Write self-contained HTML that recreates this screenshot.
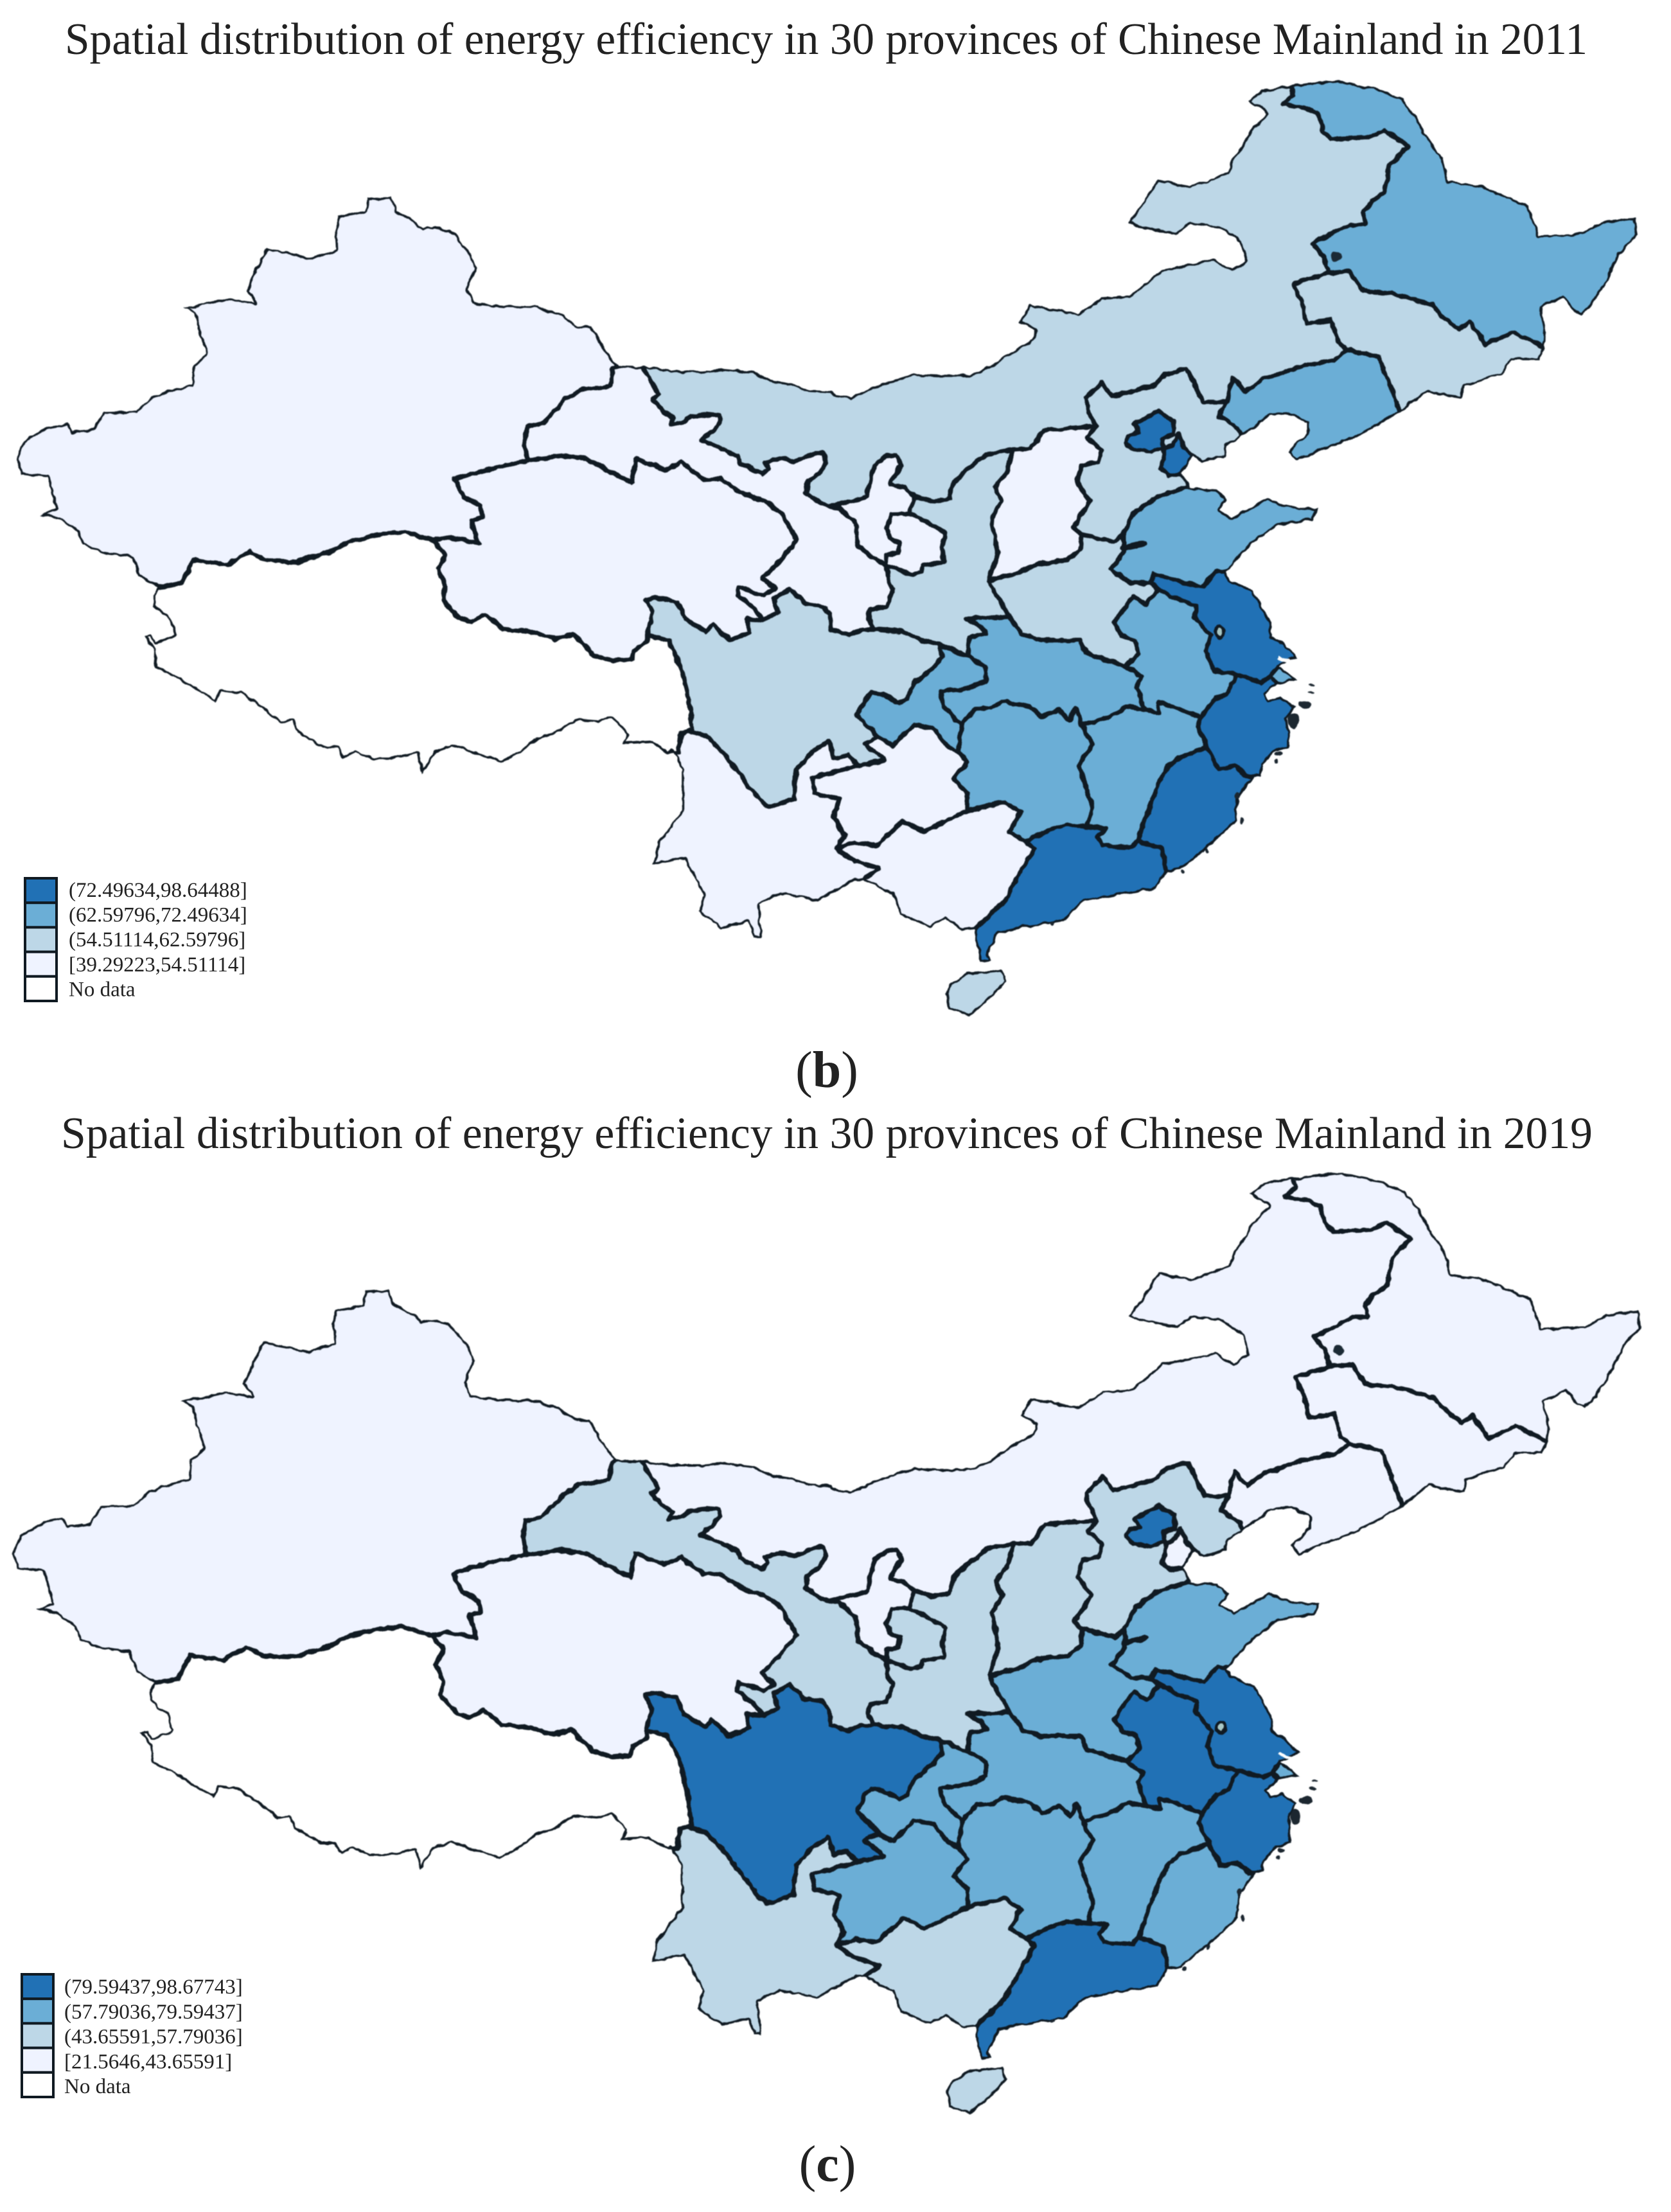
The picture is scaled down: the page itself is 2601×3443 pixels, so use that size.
<!DOCTYPE html>
<html lang="en">
<head>
<meta charset="utf-8">
<title>Spatial distribution of energy efficiency</title>
<style>
html,body{margin:0;padding:0;background:#fff;}
svg{display:block;}
text{font-family:"Liberation Serif","Times New Roman",serif;fill:#222;}
</style>
</head>
<body>
<svg id="figure" xmlns="http://www.w3.org/2000/svg" width="2601" height="3443" viewBox="0 0 2601 3443">
<defs>
<filter id="rough" filterUnits="userSpaceOnUse" x="0" y="0" width="2601" height="3443" color-interpolation-filters="sRGB">
<feTurbulence type="fractalNoise" baseFrequency="0.07" numOctaves="2" seed="4" result="n"/>
<feDisplacementMap in="SourceGraphic" in2="n" scale="7" xChannelSelector="R" yChannelSelector="G" result="d"/>
<feGaussianBlur in="d" stdDeviation="0.7"/>
</filter>
</defs>
<rect width="2601" height="3443" fill="#fff"/>
<text x="101" y="84" font-size="70" textLength="2370" lengthAdjust="spacingAndGlyphs">Spatial distribution of energy efficiency in 30 provinces of Chinese Mainland in 2011</text>
<text x="1287" y="1692" font-size="80" text-anchor="middle">(<tspan font-weight="bold">b</tspan>)</text>
<text x="95" y="1787" font-size="70" textLength="2384" lengthAdjust="spacingAndGlyphs">Spatial distribution of energy efficiency in 30 provinces of Chinese Mainland in 2019</text>
<text x="1288" y="3395" font-size="80" text-anchor="middle">(<tspan font-weight="bold">c</tspan>)</text>
<g id="maps"></g>
<g id="legends"></g>
</svg>
<script>
/* ---------- data ---------- */
const provinceNames = ["Xinjiang","Tibet","Qinghai","Gansu","Ningxia","Inner Mongolia","Heilongjiang","Jilin","Liaoning","Hebei","Beijing","Tianjin","Shanxi","Shaanxi","Shandong","Henan","Jiangsu","Anhui","Shanghai","Zhejiang","Hubei","Hunan","Jiangxi","Fujian","Guangdong","Guangxi","Chongqing","Sichuan","Guizhou","Yunnan","Hainan"];
const values2011 = [45,null,41,50,40,58,66,60,65,56,98,85,47,59,70,61,80,64,71,78,65,66,68,75,88,52,63,60,44,53,58];
const values2019 = [25,null,30,48,28,38,35,33,40,50,98,41,47,52,70,65,88,85,75,90,68,62,64,72,92,46,60,81,59,50,55];
const binEdges2011 = [39.29223,54.51114,62.59796,72.49634,98.64488];
const binEdges2019 = [21.5646,43.65591,57.79036,79.59437,98.67743];
const binColors = ["#eff3ff","#bdd7e7","#6baed6","#2171b5"];
const noDataColor = "#ffffff";

/* ---------- boundary geometry (traced outlines, local frames) ---------- */
const frames = {A:[0,0,1.206,1.845],B:[1300,100,1.205,1.845],C:[900,850,1.206,1.845],D:[0,600,1.3635,2.24],E:[1000,550,1.96,3],F:[1300,800,1.96,3],G:[1680,610,3,3],H:[1850,950,3,3]};
const arcs = {
xjOut:"A:1160,1050 1135,1000 1110,937 1085,935 1050,900 1010,880 950,878 890,868 878,830 895,770 885,730 860,680 845,660 815,650 795,655 770,625 745,605 735,565 690,570 685,605 635,620 628,660 630,715 585,740 550,728 500,712 480,770 462,835 478,868 430,855 345,883 365,900 372,950 388,1015 362,1050 360,1105 320,1120 285,1140 255,1180 195,1182 175,1230 135,1238 125,1215 90,1225 45,1265 30,1320 40,1365|D:45,310 100,320 118,430 85,450 130,470 165,510 175,555 215,585 280,600 295,665 335,705",
xjTb:"D:335,705 385,690 410,610 480,625 530,580 565,610 630,615 700,580 740,545 800,520 860,510 920,540",
xjQh:"D:920,540 955,530 1015,550 1010,520 1000,470 1025,460 1020,420 985,390 965,325 1040,290 1120,262",
xjGs:"A:990,1320 985,1270 990,1225 1020,1215 1060,1150 1090,1120 1145,1110 1150,1060 1160,1050",
gsOut:"A:1160,1050 1205,1052",
gsIm:"E:0,60 25,130 50,190 30,215 60,265 95,300 85,335 120,325 150,295 200,285 235,290 240,320 215,365 180,405 235,440 290,480 300,515 335,540 365,565 385,540 375,510 420,490 465,505 525,465 555,465 560,510 540,560 505,595 498,650 540,695 570,715",
gsNx:"E:570,715 600,720 650,790 660,900 700,950 745,990",
nxIm:"E:570,715 620,695 685,670 695,590 710,520 745,480 775,475 790,520 770,570 755,610 800,630 830,665",
nxSx:"E:830,665 815,748",
nxGs2:"E:815,748 760,750 745,820 755,860 785,885 780,930 745,940 745,990",
gsSxA:"E:815,748 870,790 925,840 915,905 920,975 855,990 850,1020 820,1030 745,990",
gsSxB:"E:745,990 750,1070 765,1100 745,1180 695,1195 690,1240 705,1290",
gsSc:"E:705,1290 670,1290 630,1315 575,1290 570,1220 550,1180 500,1170 470,1130 450,1100 400,1145 415,1210 370,1245",
qhGs:"D:1120,262 1190,245 1245,255 1340,340 1350,255|E:70,545 120,510 190,590 235,585 300,650 375,690 425,745 470,870 420,970 365,1050 405,1100 370,1130 295,1090 290,1130 340,1190 370,1245",
qhSc:"E:370,1245 320,1240 325,1305 265,1340 215,1265 195,1300 130,1240 105,1160 40,1140 10,1150 30,1210|D:1375,870",
qhTb:"D:920,540 945,590 930,640 945,700 940,750 975,810 1000,825 1030,800 1070,850 1130,860 1180,885 1215,865 1260,940 1300,960 1340,955 1345,925 1375,895 1375,870",
scTb:"D:1375,870 1420,890 1445,980 1460,1080 1470,1200",
ynTb:"D:1470,1200 1445,1210 1440,1280 1420,1285",
tbOut:"D:1420,1285 1380,1245 1320,1250 1330,1215 1300,1160 1270,1175 1220,1170 1180,1215 1140,1235 1105,1280 1065,1315 1020,1290 960,1260 925,1280 895,1355 885,1285 830,1305 790,1305 755,1280 730,1300 715,1265 685,1265 630,1210 620,1170 595,1180 560,1130 510,1075 470,1068 458,1105 405,1050 370,1015 330,985 325,925 305,875 320,870 330,895 370,870 360,815 325,770 325,730 335,705",
scYn:"C:525,630 505,600 480,610 470,560 440,590 410,640 405,725 355,750 335,720 270,590 240,545 205,530",
scGz:"F:130,1040 90,1075 120,1110 150,1150|C:525,630",
scCq:"F:320,610 325,670 290,730 240,790 220,860 195,885 150,845 110,835 90,870 65,940 100,990 130,1040",
scSx:"E:705,1290|F:205,550 265,590 320,610",
imOut:"E:0,60 100,80 180,80 250,70 340,85 390,125 450,140 510,170 580,175 590,195 635,205 700,160 780,115 830,95 900,100 1000,100 1060,60 1115,0|B:370,790 375,765 345,740 365,690 420,705 455,715 500,670 550,665 590,620 610,590 710,560 745,590 770,565 760,510 720,470 665,460 640,490 570,470 550,455 570,410 605,330 665,350 735,310 745,270 780,190 810,140 775,105 800,75 855,60",
imHl:"B:855,60 860,90 840,115 880,125 905,140 915,190 930,215 1000,210 1030,190 1075,235 1040,290 1030,370 1005,395 990,425 995,460 965,460 895,515 915,550 925,600",
imJl:"B:925,600 860,630 875,680 885,745 930,735 945,800 960,820",
imLn:"B:960,820 935,850 880,865 800,905 770,940 745,900 735,970",
imHb:"B:735,970 690,970 660,875 620,890 600,920 520,955 500,915 470,960 475,1000 490,1040",
imSh:"B:490,1040|E:1290,350 1225,360 1185,445 1130,450",
imSx:"E:1130,450 1050,470 990,545 950,600 935,680 880,690 830,665",
hlOut:"B:855,60 940,45 1020,70 1065,100 1090,150 1115,220 1140,270 1150,335 1215,350 1260,380 1300,405 1320,490 1400,485 1440,450 1500,440 1505,490 1470,550 1450,620 1420,690 1400,720 1385,710 1365,670 1325,700 1335,780 1330,815",
hlJl:"B:925,600 965,595 990,650 1050,660 1120,690 1135,720 1170,760 1190,740 1220,805 1270,770 1300,790 1330,815",
jlOut:"B:1330,815 1320,850 1270,850 1250,890 1180,925 1175,960 1130,950 1110,940 1060,1000",
jlLn:"B:960,820 1020,840 1035,900 1060,1000",
hbLn:"B:735,970 720,1010 755,1045 762,1070",
lnOut:"B:1060,1000 980,1070 910,1110 865,1140 850,1110 885,1060 885,1030 850,1005 815,1010 762,1070",
hbOut:"B:762,1070|G:690,250 680,300 575,330 530,300 480,380 515,445|B:660,1215",
hbSd:"B:660,1215 600,1245 560,1290 540,1350",
hbHn:"F:750,95 850,130 880,95",
hbSh:"B:490,1040|E:1355,390 1400,450 1390,505 1340,525 1325,600 1365,690 1315,810 1340,850",
shSx:"E:1130,450 1110,560 1075,625 1095,690 1065,770 1085,930 1055,1060",
shHn:"E:1340,850 1335,920 1295,965 1200,985 1140,1030 1055,1060",
sxCq:"F:405,665 320,610",
sxHb:"F:530,480 400,490 440,520 460,560 410,575 405,665",
sxHn:"E:1055,1060|F:500,400 530,480",
cqGz:"F:130,1040 175,1080 240,985 300,1000 340,1080 375,1110",
cqHn:"F:385,985 375,1110",
cqHb:"F:405,665 460,710 460,780 405,815 320,830 330,900 385,985",
gzYn:"C:525,630 440,665 445,710 490,725 480,780 500,830 485,870",
gzGx:"C:485,870 520,850 560,860 610,790 650,820 730,760",
hnGz:"F:375,1110|C:730,620 705,670 730,710 730,760",
ynOut:"C:175,590 195,640 195,760 150,850 140,915 200,900 235,1000 225,1050 270,1100 320,1080 330,1125 345,1125 340,1030 380,1000 450,1020 520,960 535,960",
gxYn:"C:485,870 520,905 565,925 535,960",
hnGx:"C:730,760 800,735 830,765 810,820 840,850",
gxGd:"C:840,850 855,870 825,950 800,1020 745,1100",
gxOut:"C:535,960 590,1000 605,1060 660,1095 690,1070 720,1105 745,1100",
gdHn:"C:955,805 915,800 870,825 840,850",
gdJx:"C:1050,845 1040,865 985,860 975,835 990,810 955,805",
gdFj:"C:1050,845 1095,870 1105,935",
gdOut:"C:1105,935 1085,985 950,1020 910,1080 840,1095 790,1110 770,1170 775,1190 755,1195 745,1130 745,1100",
jxHn:"C:945,515 965,570 940,630 955,700 965,750 955,805",
hbHnn:"F:385,985 430,910 480,905 510,875 595,900 630,950 680,915 715,960 735,905|C:945,515",
fjJx:"F:1135,1090 1050,1140 1015,1180|C:1090,680 1060,800 1050,845",
zjJx:"F:1115,950 1105,990 1135,1090",
ahJx:"F:945,915 990,930 985,880 1030,900 1115,950",
hbJx:"C:945,515|F:840,945 890,900 945,915",
hbAh:"F:885,710 935,760 920,810 945,915",
hnHb:"F:530,480 570,560 630,590 745,590 765,650 885,710",
hnAh:"F:885,710 925,650 915,590 875,570 850,510 880,440 910,385 950,425 985,350",
hnJs:"F:985,350 960,325",
hnSd:"F:960,325 900,320 840,260 880,180 880,95",
sdOut:"B:660,1215 715,1220 735,1250 720,1280 745,1300 770,1280 810,1245 850,1270 905,1275 895,1310 830,1325 780,1380 740,1450 730,1465",
sdJs:"F:960,325 975,280 1020,300 1060,320 1120,340 1160,270 1190,270",
ahJs:"F:985,350 1040,395 1100,430 1095,480 1145,565 1130,640 1155,730 1225,750",
jsZj:"F:1225,750 1300,785|H:385,310",
jsSh:"H:385,310 420,260",
jsOut:"F:1190,270 1205,310 1275,355 1330,510|H:385,120 445,150 510,220 420,260",
ahZj:"F:1225,750 1195,840 1160,860 1115,950",
zjSh:"H:385,310 410,345",
zjOut:"H:410,345 355,395 375,420 430,405 500,450 460,510 470,570 470,640 400,660 350,720 340,775",
zjFj:"F:1135,1090 1170,1190 1220,1180 1260,1225|H:340,775",
shOut:"H:420,260 510,325 410,345",
fjOut:"H:340,775|C:1270,660 1240,720 1235,790 1180,870 1130,930 1105,935",
hainan:"C:730,1225 795,1215 805,1250 760,1320 735,1350 695,1330 690,1285 700,1255",
beijing:"G:365,90 440,135 440,200 385,215 395,260 330,280 250,270 215,235 225,205 275,190 255,150 320,115",
tianjin:"G:395,265 440,245 465,195 490,260 530,300 480,380 420,390 380,355 395,315"
};
const provinceArcs = {
"Xinjiang":["xjOut","xjTb","xjQh","xjGs"],
"Tibet":["xjTb","qhTb","scTb","ynTb","tbOut"],
"Qinghai":["-xjQh","qhTb","-qhSc","-qhGs"],
"Gansu":["gsOut","gsIm","gsNx","-nxGs2","gsSxA","gsSxB","gsSc","-qhGs","xjGs"],
"Ningxia":["nxIm","nxSx","nxGs2","-gsNx"],
"Inner Mongolia":["imOut","imHl","imJl","imLn","imHb","imSh","imSx","-nxIm","-gsIm"],
"Heilongjiang":["hlOut","-hlJl","-imHl"],
"Jilin":["hlJl","jlOut","-jlLn","-imJl"],
"Liaoning":["jlLn","lnOut","-hbLn","-imLn"],
"Hebei":["hbLn","hbOut","hbSd","-hbHn","-hbSh","-imHb"],
"Beijing":["beijing"],
"Tianjin":["tianjin"],
"Shanxi":["imSh","shSx","-shHn","-hbSh"],
"Shaanxi":["imSx","nxSx","gsSxA","gsSxB","scSx","-sxCq","-sxHb","-sxHn","-shSx"],
"Shandong":["-hbSd","sdOut","-sdJs","hnSd"],
"Henan":["sxHn","hnHb","hnAh","hnJs","hnSd","-hbHn","shHn"],
"Jiangsu":["-hnJs","ahJs","jsZj","jsSh","-jsOut","-sdJs"],
"Anhui":["hnAh","ahJs","ahZj","-ahJx","-hbAh"],
"Shanghai":["jsSh","shOut","-zjSh"],
"Zhejiang":["jsZj","zjSh","zjOut","-zjFj","-zjJx","-ahZj"],
"Hubei":["cqHb","hbHnn","hbJx","-hbAh","-hnHb","sxHb"],
"Hunan":["cqHn","hnGz","hnGx","-gdHn","-jxHn","-hbHnn"],
"Jiangxi":["jxHn","-gdJx","-fjJx","-zjJx","-ahJx","-hbJx"],
"Fujian":["zjFj","fjOut","-gdFj","-fjJx"],
"Guangdong":["-gxGd","-gdHn","-gdJx","gdFj","gdOut"],
"Guangxi":["gzGx","hnGx","gxGd","-gxOut","-gxYn"],
"Chongqing":["sxCq","scCq","cqGz","-cqHn","-cqHb"],
"Sichuan":["gsSc","qhSc","scTb","-scYn","-scGz","-scCq","-scSx"],
"Guizhou":["scGz","gzYn","gzGx","-hnGz","-cqGz"],
"Yunnan":["ynOut","-gxYn","-gzYn","scYn","ynTb"],
"Hainan":["hainan"]
};
/* small coastal islands: frame, x, y, rx, ry */
const coastSpecks = [["H",490,515,9,12],["H",540,440,10,6],["H",570,385,5,2],["H",580,350,5,2],["H",420,670,6,4],["H",410,705,3,3],["C",1245,790,3,6],["C",1238,715,3,6],["C",1180,875,3,4],["C",1135,935,3,3],["C",890,1085,3,3]];

/* ---------- helpers ---------- */
const NS = "http://www.w3.org/2000/svg";
const STROKE = "#101a22";
function arcPoints(token){
  const rev = token[0] === "-";
  const name = rev ? token.slice(1) : token;
  const pts = [];
  arcs[name].split("|").forEach(function(part){
    const fr = frames[part[0]];
    part.slice(2).trim().split(/\s+/).forEach(function(p){
      const xy = p.split(",").map(Number);
      pts.push([fr[0] + xy[0] / fr[2], fr[1] + xy[1] / fr[3]]);
    });
  });
  return rev ? pts.reverse() : pts;
}
function provincePath(name){
  let all = [];
  provinceArcs[name].forEach(function(t){ all = all.concat(arcPoints(t)); });
  return "M" + all.map(function(p){ return p[0].toFixed(1) + " " + p[1].toFixed(1); }).join("L") + "Z";
}
function binIndex(v, edges){
  for (let i = 0; i < binColors.length; i++) { if (v <= edges[i + 1]) return i; }
  return binColors.length - 1;
}
function fillFor(v, edges){
  return v === null ? noDataColor : binColors[binIndex(v, edges)];
}
function framePoint(frame, x, y){
  const fr = frames[frame];
  return [fr[0] + x / fr[2], fr[1] + y / fr[3]];
}
function buildMap(year, values, edges, matrix){
  const outer = document.createElementNS(NS, "g");
  
  
  outer.setAttribute("filter", "url(#rough)");
  const tf = document.createElementNS(NS, "g");
  tf.setAttribute("transform", matrix);
  const clip = document.createElementNS(NS, "clipPath");
  clip.setAttribute("id", "land-" + year);
  provinceNames.forEach(function(n){
    const c = document.createElementNS(NS, "path");
    c.setAttribute("d", provincePath(n));
    clip.appendChild(c);
  });
  tf.appendChild(clip);
  const land = document.createElementNS(NS, "g");
  land.setAttribute("clip-path", "url(#land-" + year + ")");
  provinceNames.forEach(function(n, i){
    const p = document.createElementNS(NS, "path");
    p.setAttribute("d", provincePath(n));
    p.setAttribute("fill", fillFor(values[i], edges));
    p.setAttribute("stroke", STROKE);
    p.setAttribute("stroke-width", "7");
    p.setAttribute("stroke-linejoin", "round");
    
    
    land.appendChild(p);
  });
  tf.appendChild(land);
  /* Hongze lake */
  const lakeA = framePoint("F", 1172, 550);
  const lake = document.createElementNS(NS, "ellipse");
  lake.setAttribute("cx", lakeA[0]);
  lake.setAttribute("cy", lakeA[1]);
  lake.setAttribute("rx", 7);
  lake.setAttribute("ry", 9);
  lake.setAttribute("fill", "#a9c8c6");
  lake.setAttribute("stroke", STROKE);
  lake.setAttribute("stroke-width", "5");
  
  
  tf.appendChild(lake);
  /* lake in the north-east */
  const lakeB = framePoint("B", 940, 553);
  const res = document.createElementNS(NS, "circle");
  res.setAttribute("cx", lakeB[0]);
  res.setAttribute("cy", lakeB[1]);
  res.setAttribute("r", 8);
  res.setAttribute("fill", "#1b2a35");
  
  
  tf.appendChild(res);
  /* Nansi lake bar on the Shandong border */
  const barA = framePoint("G", 205, 730);
  const barB = framePoint("G", 300, 705);
  const bar = document.createElementNS(NS, "line");
  bar.setAttribute("x1", barA[0]);
  bar.setAttribute("y1", barA[1]);
  bar.setAttribute("x2", barB[0]);
  bar.setAttribute("y2", barB[1]);
  bar.setAttribute("stroke", STROKE);
  bar.setAttribute("stroke-width", "9");
  bar.setAttribute("stroke-linecap", "round");
  
  
  tf.appendChild(bar);
  /* Chongming island slit */
  const isA = framePoint("H", 415, 222);
  const isB = framePoint("H", 505, 252);
  const slit = document.createElementNS(NS, "line");
  slit.setAttribute("x1", isA[0]);
  slit.setAttribute("y1", isA[1]);
  slit.setAttribute("x2", isB[0]);
  slit.setAttribute("y2", isB[1]);
  slit.setAttribute("stroke", "#ffffff");
  slit.setAttribute("stroke-width", "4");
  
  
  tf.appendChild(slit);
  coastSpecks.forEach(function(s){
    const c = framePoint(s[0], s[1], s[2]);
    const e = document.createElementNS(NS, "ellipse");
    e.setAttribute("cx", c[0]);
    e.setAttribute("cy", c[1]);
    e.setAttribute("rx", s[3]);
    e.setAttribute("ry", s[4]);
    e.setAttribute("fill", "#1c2730");
    
    
    tf.appendChild(e);
  });
  outer.appendChild(tf);
  document.getElementById("maps").appendChild(outer);
}
function buildLegend(year, edges, x, y0, textX, cellH, step, firstBase){
  const g = document.createElementNS(NS, "g");
  
  
  const n = binColors.length;
  for (let row = 0; row <= n; row++) {
    const idx = n - 1 - row;
    const rect = document.createElementNS(NS, "rect");
    rect.setAttribute("x", x);
    rect.setAttribute("y", y0 + row * cellH);
    rect.setAttribute("width", 49);
    rect.setAttribute("height", cellH);
    rect.setAttribute("fill", idx >= 0 ? binColors[idx] : noDataColor);
    rect.setAttribute("stroke", STROKE);
    rect.setAttribute("stroke-width", "4");
    
    
    g.appendChild(rect);
    const t = document.createElementNS(NS, "text");
    t.setAttribute("x", textX);
    t.setAttribute("y", firstBase + row * step);
    t.setAttribute("font-size", "33");
    
    
    t.textContent = idx >= 0 ? ((idx === 0 ? "[" : "(") + edges[idx] + "," + edges[idx + 1] + "]") : "No data";
    g.appendChild(t);
  }
  document.getElementById("legends").appendChild(g);
}
buildMap("2011", values2011, binEdges2011, "matrix(1 0 0 1 0 0)");
buildMap("2019", values2019, binEdges2019, "matrix(1.0045 0 0 1.006 -6.1 1699.3)");
buildLegend("2011", binEdges2011, 39, 1367, 107, 38.2, 38.6, 1396);
buildLegend("2019", binEdges2019, 34, 3073, 100, 38.2, 38.75, 3103);
</script>
</body>
</html>
